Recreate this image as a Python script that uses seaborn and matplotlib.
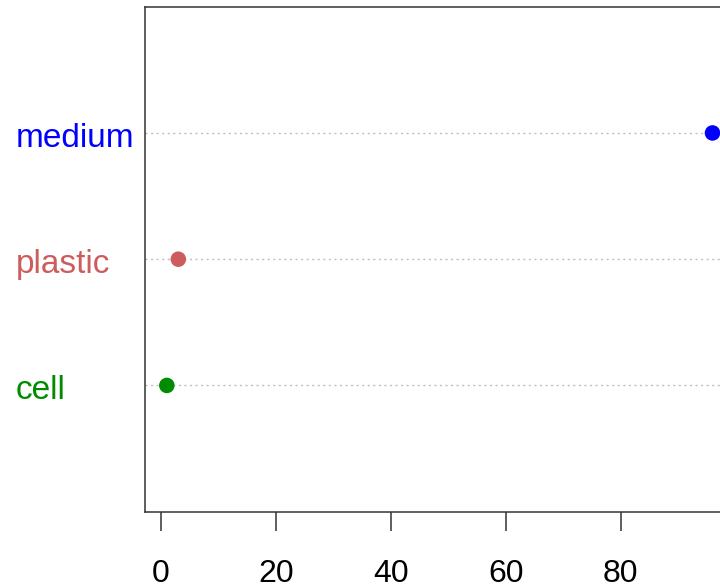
import numpy as np
import pandas as pd
import matplotlib
matplotlib.use("Agg")
import matplotlib.pyplot as plt
import matplotlib.transforms as mtransforms
import seaborn as sns

# Dot chart data (bottom to top)
labels = ["cell", "plastic", "medium"]
values = [1, 3, 96]
colors = ["#008B00", "#CD5C5C", "#0000FF"]
xticks = [0, 20, 40, 60, 80]

df = pd.DataFrame({"label": labels, "value": values,
                   "pos": np.arange(1, len(labels) + 1)})

sns.set_style("white")
plt.rcParams["font.family"] = ["Liberation Sans", "DejaVu Sans"]

fig = plt.figure(figsize=(7.2, 5.88), dpi=100)
ax = fig.add_axes([0.2014, 0.1298, 0.8185, 0.8588])

# dotted guide lines at each row
for p in df["pos"]:
    ax.axhline(p, color="#BEBEBE", linestyle=(0, (1.5, 2.5)), linewidth=1, zorder=1)

sns.scatterplot(data=df, x="value", y="pos", hue="label",
                palette=dict(zip(labels, colors)), s=125,
                edgecolor="none", legend=False, ax=ax, zorder=3)

pad = 0.04 * (max(values) - min(values))
ax.set_xlim(min(values) - pad, max(values) + pad)
ax.set_ylim(0, len(labels) + 1)

ax.set_xticks(xticks)
ax.set_xticklabels([str(t) for t in xticks], fontsize=23, color="black")
ax.tick_params(axis="x", length=14, width=1.1, color="#333333", pad=20,
               bottom=True)
ax.set_yticks([])
ax.set_xlabel("")
ax.set_ylabel("")

for side in ["left", "top", "bottom"]:
    ax.spines[side].set_visible(True)
    ax.spines[side].set_color("#333333")
    ax.spines[side].set_linewidth(1.1)
ax.spines["right"].set_visible(False)

# row labels, left aligned in the margin, baseline a little below the row
trans = mtransforms.blended_transform_factory(fig.transFigure, ax.transData)
for lab, p, c in zip(labels, df["pos"], colors):
    ax.text(16 / 720, p - 0.108, lab, color=c, fontsize=24, ha="left",
            va="baseline", transform=trans)

fig.savefig("out.png", dpi=100)
